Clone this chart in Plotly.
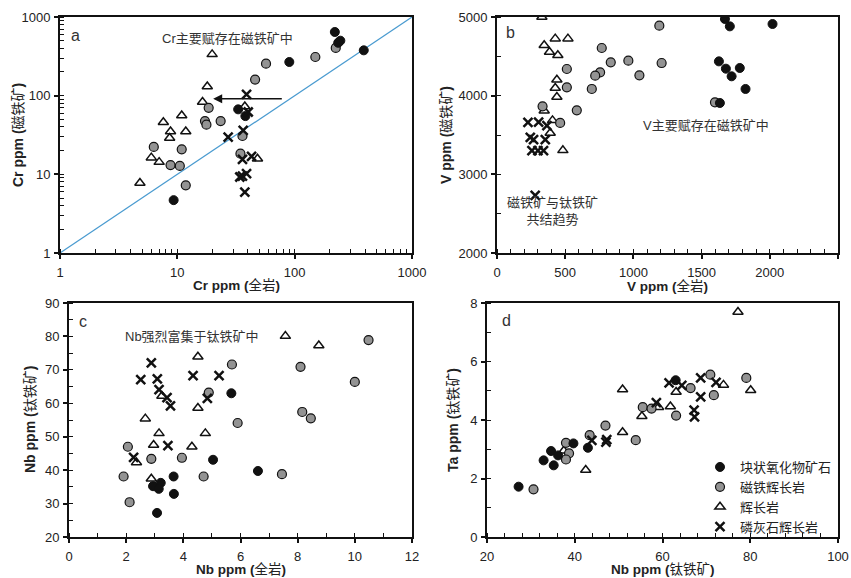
import math
import plotly.graph_objects as go

# ---------------- data ----------------
GROUPS = ["块状氧化物矿石", "磁铁辉长岩", "辉长岩", "磷灰石辉长岩"]

# Panel a: Cr whole rock vs Cr magnetite (log-log)
a_ore_x = [220, 245, 235, 90, 388, 33, 38, 9.3]
a_ore_y = [645, 500, 470, 268, 377, 67, 55, 4.7]
a_mg_x = [224, 150, 57, 46, 18.5, 17.2, 17.7, 23.4, 35.9, 34.5, 6.3, 8.75, 10.5, 10.9, 11.8]
a_mg_y = [404, 310, 255, 160, 70, 47.6, 42.8, 47.6, 30.7, 18.3, 22.3, 13.1, 12.8, 20.8, 7.25]
a_gb_x = [19.8, 18, 16.4, 10.9, 7.6, 8.75, 8.6, 11.8, 37.6, 6.0, 7.0, 4.8, 48.2]
a_gb_y = [335, 131, 83, 56, 46, 35, 29, 35, 73, 16.3, 14.3, 7.76, 15.8]
a_ap_x = [38.9, 40.2, 27.1, 36.4, 35.9, 42.9, 35.9, 38.9, 34.1, 37.6]
a_ap_y = [104, 62, 29.8, 36.3, 15.5, 16.9, 9.5, 10.2, 9.25, 5.96]
a_line = [1, 1000]
a_arrow_x = [80, 20.2]
a_arrow_y = 91.6

# Panel b: V whole rock vs V magnetite
b_ore_x = [1671, 1707, 2020, 1627, 1678, 1720, 1780, 1822, 1634]
b_ore_y = [4975, 4881, 4911, 4436, 4343, 4246, 4352, 4085, 3907]
b_mg_x = [1190, 1207, 768, 834, 963, 1044, 756, 720, 695, 512, 512, 585, 463, 334, 1598]
b_mg_y = [4890, 4415, 4606, 4424, 4445, 4258, 4297, 4254, 4085, 4339, 4106, 3814, 3653, 3864, 3915]
b_gb_x = [329, 346, 427, 520, 385, 446, 439, 427, 439, 346, 407, 390, 483]
b_gb_y = [5000, 4640, 4725, 4725, 4555, 4513, 4203, 4097, 3983, 3809, 3686, 3525, 3305]
b_ap_x = [227, 305, 366, 244, 268, 354, 256, 341, 300, 280]
b_ap_y = [3661, 3665, 3619, 3470, 3441, 3441, 3301, 3301, 3301, 2733]

# Panel c: Nb whole rock vs Nb ilmenite
c_ore_x = [5.68, 6.61, 5.04, 3.66, 3.67, 3.21, 2.94, 3.14, 3.08]
c_ore_y = [63.0, 39.75, 43.1, 38.1, 32.9, 36.2, 35.2, 34.4, 27.2]
c_mg_x = [10.48, 8.10, 10.0, 8.16, 8.46, 5.70, 4.89, 5.90, 7.45, 4.71, 3.95, 2.88, 2.06, 1.91, 2.12]
c_mg_y = [78.9, 70.9, 66.4, 57.4, 55.5, 71.6, 63.2, 54.1, 38.8, 38.1, 43.7, 43.4, 47.0, 38.1, 30.4]
c_gb_x = [7.57, 8.74, 4.51, 4.51, 3.25, 2.67, 3.15, 2.96, 4.77, 4.30, 2.36, 2.88]
c_gb_y = [80.1, 77.3, 73.9, 58.6, 62.2, 55.4, 51.0, 47.5, 51.0, 47.0, 42.3, 37.4]
c_ap_x = [2.88, 2.51, 3.09, 3.15, 3.43, 3.55, 4.34, 5.25, 4.84, 3.46, 2.26]
c_ap_y = [72.1, 67.1, 67.3, 64.1, 61.7, 59.2, 68.3, 68.3, 61.5, 47.3, 43.8]

# Panel d: Nb ilmenite vs Ta ilmenite
d_ore_x = [27.2, 32.9, 34.6, 35.2, 36.2, 39.7, 43.0, 63.0]
d_ore_y = [1.72, 2.62, 2.94, 2.45, 2.79, 3.20, 3.05, 5.36]
d_mg_x = [30.6, 38.0, 38.7, 38.0, 43.4, 47.0, 53.9, 55.5, 57.5, 63.1, 66.4, 70.9, 71.7, 79.1]
d_mg_y = [1.63, 3.22, 2.86, 2.65, 3.48, 3.81, 3.31, 4.44, 4.39, 4.15, 5.09, 5.55, 4.85, 5.44]
d_gb_x = [77.2, 50.9, 50.9, 55.3, 42.5, 59.1, 61.8, 63.1, 73.9, 80.1, 37.5]
d_gb_y = [7.69, 5.04, 3.58, 4.13, 2.29, 4.44, 4.46, 4.96, 5.20, 5.02, 2.95]
d_ap_x = [61.5, 64.4, 68.7, 72.2, 68.7, 67.2, 67.3, 58.6, 43.9, 47.3, 47.1]
d_ap_y = [5.27, 5.18, 5.44, 5.29, 4.79, 4.34, 4.11, 4.59, 3.30, 3.33, 3.24]

# ---------------- styles ----------------
FONT = "Liberation Sans, Arial, Noto Sans CJK SC, sans-serif"
STYLES = [
    dict(symbol="circle", size=9, color="#111111", line=dict(color="#111111", width=1)),
    dict(symbol="circle", size=9, color="#939393", line=dict(color="#111111", width=1.2)),
    dict(symbol="triangle-up-open", size=9, color="#111111", line=dict(color="#111111", width=1.5)),
    dict(symbol="x-thin", size=9, color="#111111", line=dict(color="#111111", width=2.5)),
]

fig = go.Figure()

panels = [
    ("x", "y", [(a_ore_x, a_ore_y), (a_mg_x, a_mg_y), (a_gb_x, a_gb_y), (a_ap_x, a_ap_y)], False),
    ("x2", "y2", [(b_ore_x, b_ore_y), (b_mg_x, b_mg_y), (b_gb_x, b_gb_y), (b_ap_x, b_ap_y)], False),
    ("x3", "y3", [(c_ore_x, c_ore_y), (c_mg_x, c_mg_y), (c_gb_x, c_gb_y), (c_ap_x, c_ap_y)], False),
    ("x4", "y4", [(d_ore_x, d_ore_y), (d_mg_x, d_mg_y), (d_gb_x, d_gb_y), (d_ap_x, d_ap_y)], True),
]

# 1:1 line in panel a
fig.add_trace(go.Scatter(x=a_line, y=a_line, mode="lines", line=dict(color="#4a9bd0", width=1.2),
                         xaxis="x", yaxis="y", showlegend=False, hoverinfo="skip"))

for xa, ya, series, legend in panels:
    # draw order: gabbro, mag gabbro, ore, apatite
    for gi in [2, 1, 0, 3]:
        xs, ys = series[gi]
        fig.add_trace(go.Scatter(x=xs, y=ys, mode="markers", marker=STYLES[gi], name=GROUPS[gi],
                                 xaxis=xa, yaxis=ya, showlegend=legend, legendrank=gi + 1))

# ---------------- axes ----------------
def common(dom, anchor, is_x):
    return dict(domain=dom, showgrid=False, zeroline=False,
                showline=True, linecolor="#111111", linewidth=2, mirror=True,
                ticks="outside", ticklen=4, tickwidth=1.5, tickcolor="#111111",
                ticklabelstandoff=2 if is_x else 1,
                tickfont=dict(family=FONT, size=13, color="#222222"), anchor=anchor, automargin=False)

def lin_axis(dom, rng, dtick, minor, anchor, is_x):
    d = common(dom, anchor, is_x)
    d.update(range=rng, dtick=dtick, tick0=rng[0],
             minor=dict(dtick=minor, ticks="inside", ticklen=4, tickwidth=1.2, tickcolor="#111111", showgrid=False))
    return d

def log_axis(dom, anchor, is_x):
    d = common(dom, anchor, is_x)
    d.update(type="log", range=[0, 3], dtick=1,
             minor=dict(dtick="D1", ticks="inside", ticklen=4, tickwidth=1.2, tickcolor="#111111", showgrid=False))
    return d

W, H = 851, 578
ax_a = [60 / W, 412 / W]
ax_b = [497 / W, 838 / W]
ax_c = [69 / W, 412 / W]
ax_d = [487 / W, 838 / W]
ay_top = [1 - 253 / H, 1 - 17 / H]
ay_bot = [1 - 537 / H, 1 - 303 / H]

fig.update_layout(
    width=W, height=H, margin=dict(l=0, r=0, t=0, b=0),
    paper_bgcolor="white", plot_bgcolor="white",
    xaxis=log_axis(ax_a, "y", True), yaxis=log_axis(ay_top, "x", False),
    xaxis2=lin_axis(ax_b, [0, 2500], 500, 100, "y2", True), yaxis2=lin_axis(ay_top, [2000, 5000], 1000, 500, "x2", False),
    xaxis3=lin_axis(ax_c, [0, 12], 2, 1, "y3", True), yaxis3=lin_axis(ay_bot, [20, 90], 10, 5, "x3", False),
    xaxis4=lin_axis(ax_d, [20, 100], 20, 4, "y4", True), yaxis4=lin_axis(ay_bot, [0, 8], 2, 1, "x4", False),
    legend=dict(x=700 / W, y=1 - 452 / H, xanchor="left", yanchor="top", bgcolor="rgba(0,0,0,0)",
                font=dict(family="Noto Sans CJK SC, sans-serif", size=13, color="#222222"),
                itemwidth=30, tracegroupgap=0, traceorder="normal"),
    font=dict(family=FONT),
    showlegend=True,
)

ann = []
def title_x(text, xdom, ypx):
    ann.append(dict(text=text, xref="paper", yref="paper", x=(xdom[0] + xdom[1]) / 2, y=1 - ypx / H,
                    xanchor="center", yanchor="middle", showarrow=False,
                    font=dict(family=FONT, size=13.5, color="#222222")))
def title_y(text, xpx, ydom):
    ann.append(dict(text=text, xref="paper", yref="paper", x=xpx / W, y=(ydom[0] + ydom[1]) / 2,
                    xanchor="center", yanchor="middle", textangle=-90, showarrow=False,
                    font=dict(family=FONT, size=14, color="#222222")))

title_x("<b>Cr ppm (</b>全岩<b>)</b>", ax_a, 285)
title_x("<b>V ppm (</b>全岩<b>)</b>", ax_b, 286)
title_x("<b>Nb ppm (</b>全岩<b>)</b>", ax_c, 569)
title_x("<b>Nb ppm (</b>钛铁矿<b>)</b>", ax_d, 569)
title_y("<b>Cr ppm (</b>磁铁矿<b>)</b>", 18, ay_top)
title_y("<b>V ppm (</b>磁铁矿<b>)</b>", 446, ay_top)
title_y("<b>Nb ppm (</b>钛铁矿<b>)</b>", 30, ay_bot)
title_y("<b>Ta ppm (</b>钛铁矿<b>)</b>", 453, ay_bot)

def txt(text, xr, yr, x, y, size=13, xanchor="center"):
    ann.append(dict(text=text, xref=xr, yref=yr, x=x, y=y, xanchor=xanchor, yanchor="middle",
                    showarrow=False, font=dict(family=FONT, size=size, color="#333333")))

txt("a", "x", "y", math.log10(1.35), math.log10(585), size=16)
txt("Cr主要赋存在磁铁矿中", "x", "y", math.log10(26.8), math.log10(540))
txt("b", "x2", "y2", 98, 4800, size=16)
txt("V主要赋存在磁铁矿中", "x2", "y2", 1532, 3619)
txt("磁铁矿与钛铁矿<br>共结趋势", "x2", "y2", 55, 2530, xanchor="left")
txt("c", "x3", "y3", 0.5, 84.5, size=16)
txt("Nb强烈富集于钛铁矿中", "x3", "y3", 4.31, 80.1)
txt("d", "x4", "y4", 24.5, 7.4, size=16)

ann.append(dict(x=math.log10(a_arrow_x[1]), y=math.log10(a_arrow_y), ax=math.log10(a_arrow_x[0]),
                ay=math.log10(a_arrow_y), xref="x", yref="y", axref="x", ayref="y", text="",
                showarrow=True, arrowhead=2, arrowsize=1.2, arrowwidth=1.5, arrowcolor="#111111"))

fig.update_layout(annotations=ann)
fig.write_html("out.html", config={"displayModeBar": False},
               post_script="document.body.style.margin='0';document.body.style.overflow='hidden';")
